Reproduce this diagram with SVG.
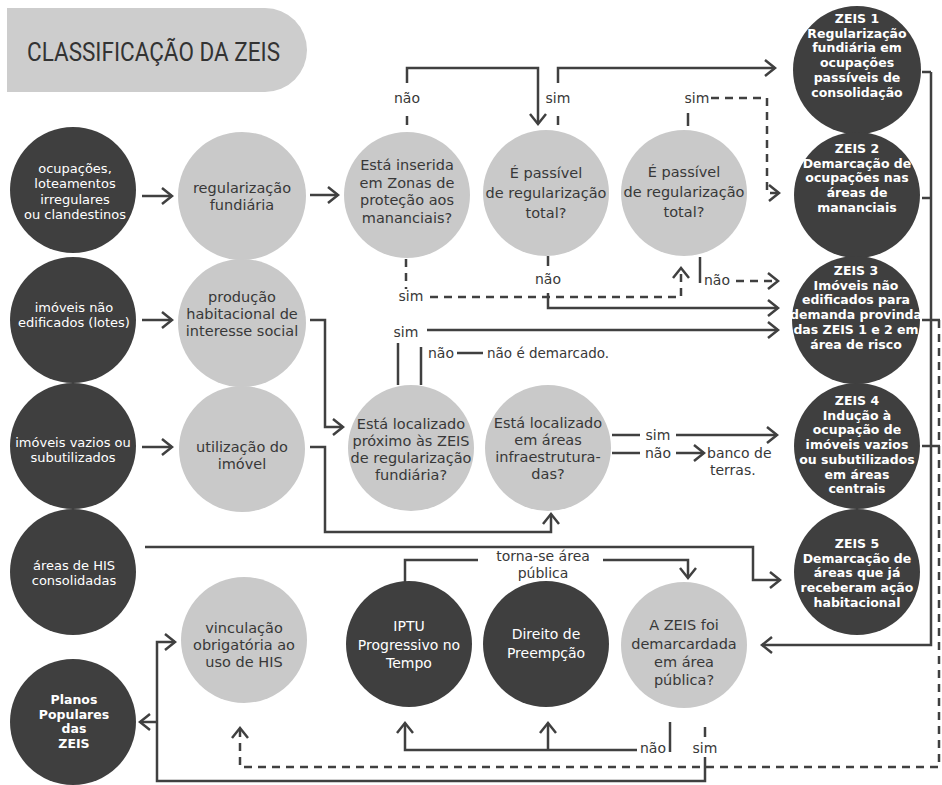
<svg xmlns="http://www.w3.org/2000/svg" width="942" height="785" viewBox="0 0 942 785">
<defs>
<style>
.dk{fill:#3f3f3f}
.lt{fill:#c9c9c9}
.tw{font-family:"DejaVu Sans","Liberation Sans",sans-serif;fill:#ffffff;font-size:13px;text-anchor:middle}
.tb{font-family:"DejaVu Sans","Liberation Sans",sans-serif;fill:#ffffff;font-size:14px;text-anchor:middle}
.tz{font-family:"DejaVu Sans","Liberation Sans",sans-serif;fill:#ffffff;font-size:12.5px;font-weight:700;text-anchor:middle}
.tl{font-family:"DejaVu Sans","Liberation Sans",sans-serif;fill:#383838;font-size:14.5px;text-anchor:middle}
.lb{font-family:"DejaVu Sans","Liberation Sans",sans-serif;fill:#383838;font-size:14px}
.ln{fill:none;stroke:#404040;stroke-width:2.5}
.ds{fill:none;stroke:#404040;stroke-width:2.5;stroke-dasharray:8 6}
</style>
<marker id="ah" markerUnits="userSpaceOnUse" markerWidth="16" markerHeight="22" viewBox="-3 -3 16 22" refX="10" refY="8" orient="auto">
<path d="M0,0 L10,8 L0,16" fill="none" stroke="#404040" stroke-width="2.5"/>
</marker>
</defs>
<rect width="942" height="785" fill="#ffffff"/>

<g id="title">
<path d="M7,8 H265 A42,42 0 0 1 265,92 H7 Z" fill="#cdcdcd"/>
<text x="27" y="61" font-family="Roboto,'Liberation Sans',sans-serif" font-size="25" fill="#333333" textLength="253" lengthAdjust="spacingAndGlyphs">CLASSIFICAÇÃO DA ZEIS</text>
</g>

<g id="connectors">
<path class="ln" d="M142,196 H172" marker-end="url(#ah)"/>
<path class="ln" d="M310,195 H338" marker-end="url(#ah)"/>
<path class="ln" d="M142,320 H172" marker-end="url(#ah)"/>
<path class="ln" d="M142,447 H172" marker-end="url(#ah)"/>
<path class="ln" d="M407,125 V116 M407,83 V68 H538 V124" marker-end="url(#ah)"/>
<path class="ln" d="M558,125 V116 M558,83 V68 H775" marker-end="url(#ah)"/>
<path class="ln" d="M688,126 V113"/>
<path class="ds" d="M711,98 H767 V193 H779" marker-end="url(#ah)"/>
<path class="ds" d="M406,259 V289"/>
<path class="ds" d="M430,297 H681 V268" marker-end="url(#ah)"/>
<path class="ln" d="M548,256 V266 M548,293 V308 H778" marker-end="url(#ah)"/>
<path class="ln" d="M700,257 V283"/>
<path class="ds" d="M736,281 H778" marker-end="url(#ah)"/>
<path class="ln" d="M398,385 V343"/>
<path class="ln" d="M427,330 H778" marker-end="url(#ah)"/>
<path class="ln" d="M421,385 V347 M457,353 H483"/>
<path class="ln" d="M310,320 H325 V427 H343" marker-end="url(#ah)"/>
<path class="ln" d="M310,447 H325 V532 H551 V514" marker-end="url(#ah)"/>
<path class="ln" d="M612,435 H640 M676,435 H777" marker-end="url(#ah)"/>
<path class="ln" d="M612,453 H640 M676,453 H704" marker-end="url(#ah)"/>
<path class="ln" d="M145,547 H753 V580 H780" marker-end="url(#ah)"/>
<path class="ln" d="M405,582 V560 H478 M603,560 H688 V578" marker-end="url(#ah)"/>
<path class="ln" d="M922,72 H931 M922,198 H931 M922,320 H940 M922,446 H940"/>
<path class="ln" d="M931,72 V645 H762" marker-end="url(#ah)"/>
<path class="ds" d="M939,320 V767 H240 V728" marker-end="url(#ah)"/>
<path class="ln" d="M670,722 V752"/>
<path class="ln" d="M637,750 H405 V723" marker-end="url(#ah)"/>
<path class="ln" d="M548,750 V723" marker-end="url(#ah)"/>
<path class="ln" d="M705,727 V737"/>
<path class="ln" d="M705,757 V781 H157 V642 H175" marker-end="url(#ah)"/>
<path class="ln" d="M157,722 H140" marker-end="url(#ah)"/>
<text class="lb" x="407" y="103" text-anchor="middle">não</text>
<text class="lb" x="558" y="103" text-anchor="middle">sim</text>
<text class="lb" x="697" y="103" text-anchor="middle">sim</text>
<text class="lb" x="411" y="301" text-anchor="middle">sim</text>
<text class="lb" x="548" y="284" text-anchor="middle">não</text>
<text class="lb" x="704" y="285">não</text>
<text class="lb" x="406" y="337" text-anchor="middle">sim</text>
<text class="lb" x="428" y="358">não</text>
<text class="lb" x="487" y="358" style="font-size:13.5px">não é demarcado.</text>
<text class="lb" x="658" y="440" text-anchor="middle">sim</text>
<text class="lb" x="658" y="458" text-anchor="middle">não</text>
<text class="lb" x="707" y="458">banco de</text>
<text class="lb" x="710" y="475">terras.</text>
<text class="lb" x="543" y="561" text-anchor="middle">torna-se área</text>
<text class="lb" x="543" y="577.5" text-anchor="middle">pública</text>
<text class="lb" x="653" y="753" text-anchor="middle">não</text>
<text class="lb" x="705" y="753" text-anchor="middle">sim</text>
</g>

<g id="n-ocupacoes"><circle class="dk" cx="73" cy="190" r="63"/>
<text class="tw" x="75" y="173">ocupações,</text><text class="tw" x="75" y="188.3">loteamentos</text><text class="tw" x="75" y="203.6">irregulares</text><text class="tw" x="75" y="218.9">ou clandestinos</text></g>
<g id="n-imoveis-nao-edificados"><circle class="dk" cx="73" cy="320" r="63"/>
<text class="tw" x="74" y="312">imóveis não</text><text class="tw" x="74" y="327.3">edificados (lotes)</text></g>
<g id="n-imoveis-vazios"><circle class="dk" cx="73" cy="446" r="63"/>
<text class="tw" x="73" y="447">imóveis vazios ou</text><text class="tw" x="73" y="462.3">subutilizados</text></g>
<g id="n-areas-his"><circle class="dk" cx="73" cy="572" r="63"/>
<text class="tw" x="74" y="570">áreas de HIS</text><text class="tw" x="74" y="585.3">consolidadas</text></g>
<g id="n-planos"><circle class="dk" cx="73" cy="722" r="63"/>
<text class="tz" x="74" y="704">Planos</text><text class="tz" x="74" y="718.7">Populares</text><text class="tz" x="74" y="733.4">das</text><text class="tz" x="74" y="748.1">ZEIS</text></g>

<g id="n-regularizacao"><circle class="lt" cx="242" cy="196" r="64"/>
<text class="tl" x="242" y="193">regularização</text><text class="tl" x="242" y="210">fundiária</text></g>
<g id="n-producao"><circle class="lt" cx="242" cy="323" r="64"/>
<text class="tl" x="242" y="302">produção</text><text class="tl" x="242" y="319">habitacional de</text><text class="tl" x="242" y="336">interesse social</text></g>
<g id="n-utilizacao"><circle class="lt" cx="242" cy="449" r="63"/>
<text class="tl" x="242" y="452">utilização do</text><text class="tl" x="242" y="469">imóvel</text></g>
<g id="n-vinculacao"><circle class="lt" cx="244" cy="640" r="63"/>
<text class="tl" x="244" y="633">vinculação</text><text class="tl" x="244" y="650">obrigatória ao</text><text class="tl" x="244" y="667">uso de HIS</text></g>

<g id="n-mananciais"><circle class="lt" cx="407" cy="195" r="63"/>
<text class="tl" x="407" y="170">Está inserida</text><text class="tl" x="407" y="187.5">em Zonas de</text><text class="tl" x="407" y="205">proteção aos</text><text class="tl" x="407" y="222.5">mananciais?</text></g>
<g id="n-passivel1"><circle class="lt" cx="546" cy="193" r="63"/>
<text class="tl" x="546" y="178">É passível</text><text class="tl" x="546" y="198">de regularização</text><text class="tl" x="546" y="218">total?</text></g>
<g id="n-passivel2"><circle class="lt" cx="684" cy="193" r="63"/>
<text class="tl" x="684" y="177">É passível</text><text class="tl" x="684" y="197">de regularização</text><text class="tl" x="684" y="217">total?</text></g>
<g id="n-proximo"><circle class="lt" cx="411" cy="448" r="63"/>
<text class="tl" x="411" y="429">Está localizado</text><text class="tl" x="411" y="446">próximo às ZEIS</text><text class="tl" x="411" y="463">de regularização</text><text class="tl" x="411" y="480">fundiária?</text></g>
<g id="n-infra"><circle class="lt" cx="548" cy="448" r="63"/>
<text class="tl" x="548" y="428">Está localizado</text><text class="tl" x="548" y="445">em áreas</text><text class="tl" x="548" y="462">infraestrutura-</text><text class="tl" x="548" y="479">das?</text></g>
<g id="n-publica"><circle class="lt" cx="684" cy="645" r="63"/>
<text class="tl" x="684" y="630">A ZEIS foi</text><text class="tl" x="684" y="649">demarcardada</text><text class="tl" x="684" y="667">em área</text><text class="tl" x="684" y="685">pública?</text></g>

<g id="n-iptu"><circle class="dk" cx="409" cy="644" r="63"/>
<text class="tb" x="409" y="631">IPTU</text><text class="tb" x="409" y="649.5">Progressivo no</text><text class="tb" x="409" y="668">Tempo</text></g>
<g id="n-preempcao"><circle class="dk" cx="546" cy="644" r="63"/>
<text class="tb" x="546" y="639">Direito de</text><text class="tb" x="546" y="657.5">Preempção</text></g>

<g id="zeis1"><circle class="dk" cx="857" cy="70" r="64"/>
<text class="tz" x="857" y="23">ZEIS 1</text><text class="tz" x="857" y="37.7">Regularização</text><text class="tz" x="857" y="52.4">fundiária em</text><text class="tz" x="857" y="67.1">ocupações</text><text class="tz" x="857" y="81.8">passíveis de</text><text class="tz" x="857" y="96.5">consolidação</text></g>
<g id="zeis2"><circle class="dk" cx="857" cy="195" r="63"/>
<text class="tz" x="857" y="153">ZEIS 2</text><text class="tz" x="857" y="167.7">Demarcação de</text><text class="tz" x="857" y="182.4">ocupações nas</text><text class="tz" x="857" y="197.1">áreas de</text><text class="tz" x="857" y="211.8">mananciais</text></g>
<g id="zeis3"><circle class="dk" cx="856" cy="320" r="64"/>
<text class="tz" x="856" y="275">ZEIS 3</text><text class="tz" x="856" y="289.7">Imóveis não</text><text class="tz" x="856" y="304.4">edificados para</text><text class="tz" x="856" y="319.1">demanda provinda</text><text class="tz" x="856" y="333.8">das ZEIS 1 e 2 em</text><text class="tz" x="856" y="348.5">área de risco</text></g>
<g id="zeis4"><circle class="dk" cx="857" cy="446" r="63"/>
<text class="tz" x="857" y="405">ZEIS 4</text><text class="tz" x="857" y="419.7">Indução à</text><text class="tz" x="857" y="434.4">ocupação de</text><text class="tz" x="857" y="449.1">imóveis vazios</text><text class="tz" x="857" y="463.8">ou subutilizados</text><text class="tz" x="857" y="478.5">em áreas</text><text class="tz" x="857" y="493.2">centrais</text></g>
<g id="zeis5"><circle class="dk" cx="857" cy="572" r="63"/>
<text class="tz" x="857" y="548">ZEIS 5</text><text class="tz" x="857" y="562.7">Demarcação de</text><text class="tz" x="857" y="577.4">áreas que já</text><text class="tz" x="857" y="592.1">receberam ação</text><text class="tz" x="857" y="606.8">habitacional</text></g>
</svg>
